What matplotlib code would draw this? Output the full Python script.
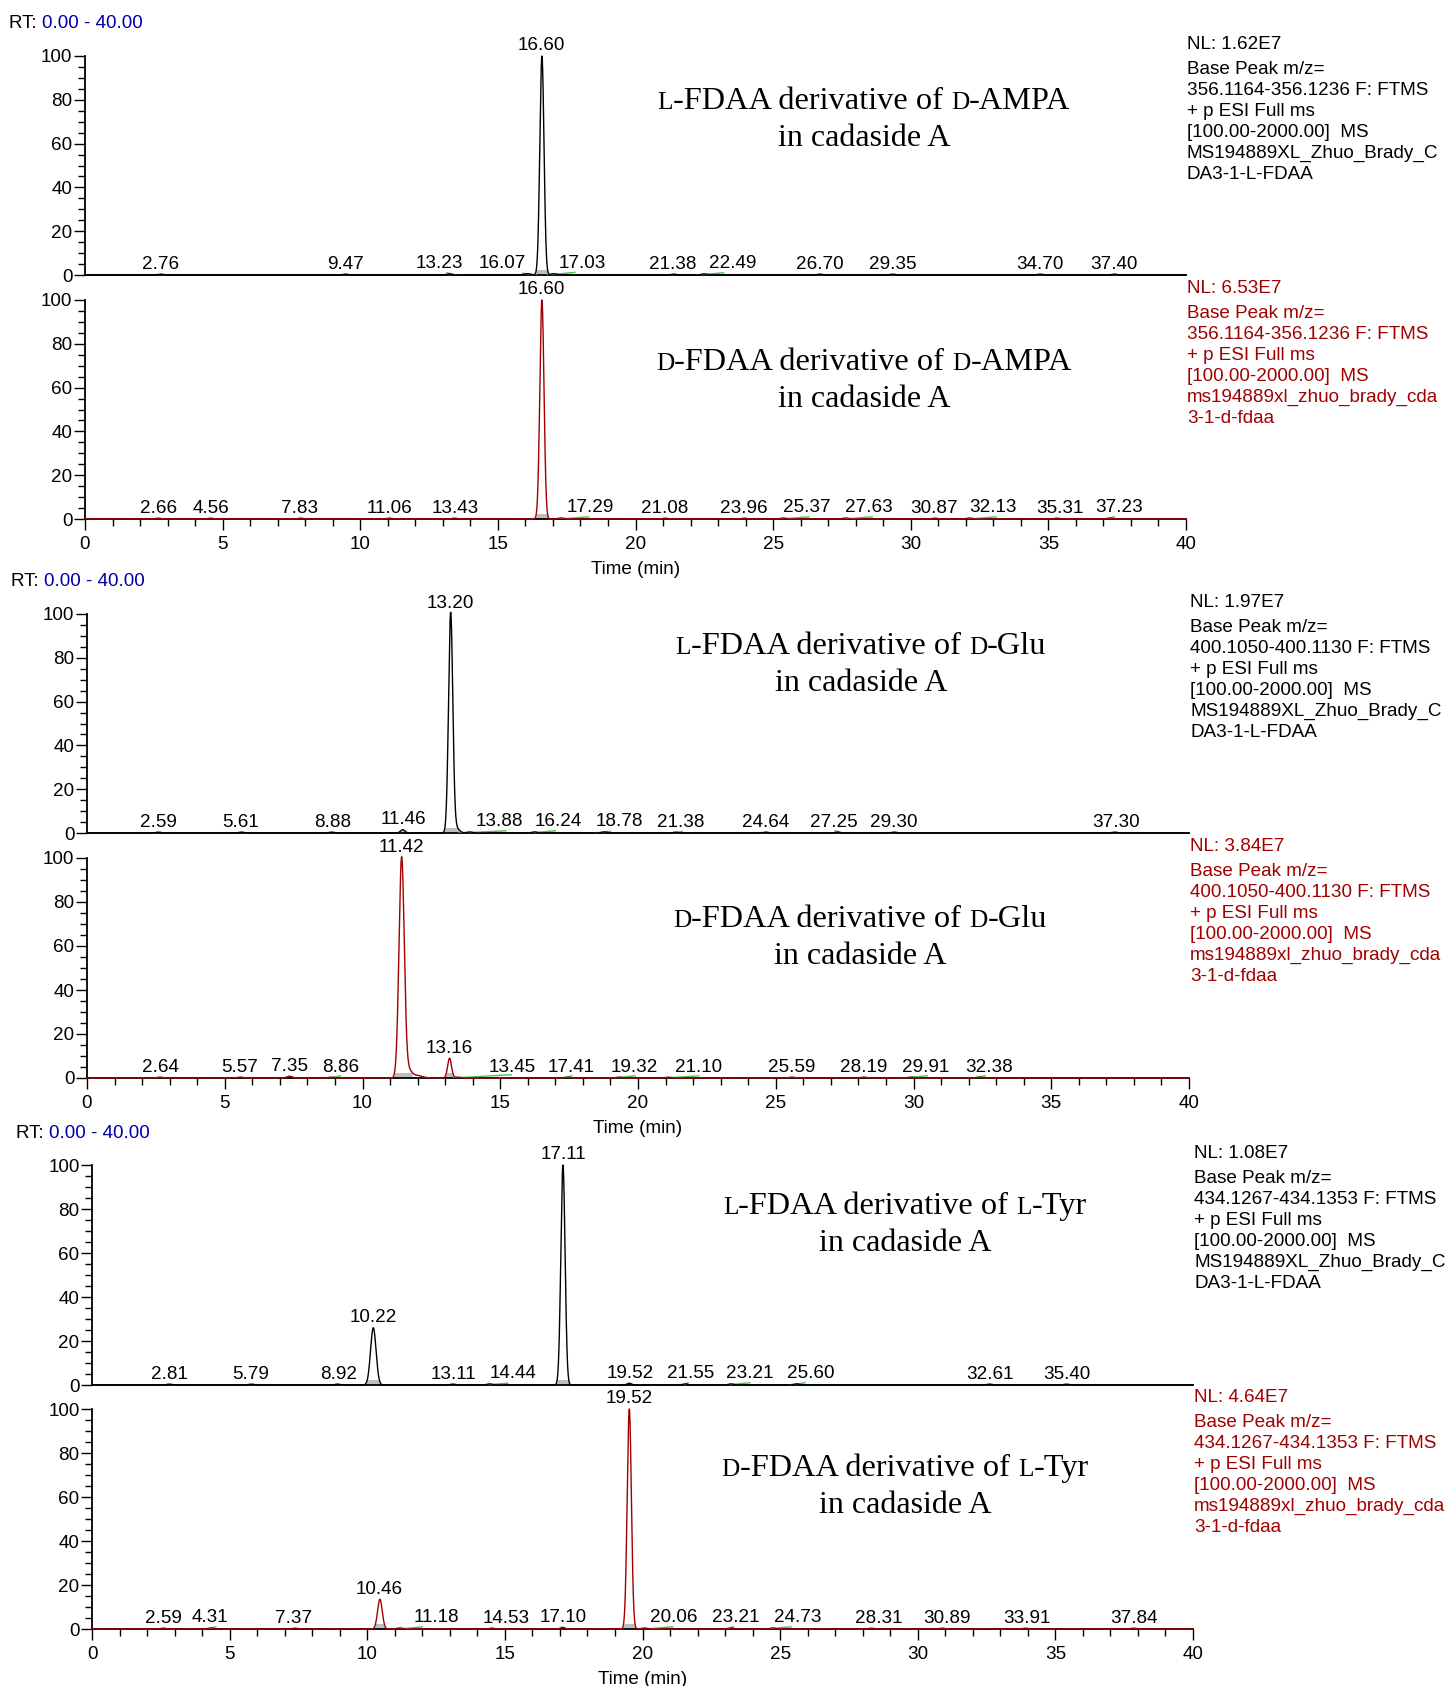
import numpy as np
import matplotlib
matplotlib.use("Agg")
import matplotlib.pyplot as plt
from matplotlib.ticker import MultipleLocator
from matplotlib.transforms import offset_copy

# ---------------------------------------------------------------------------
# Chromatogram data (retention time in min, relative abundance in %)
# ---------------------------------------------------------------------------
# Panel A: L-FDAA derivative of D-AMPA
a_rt = [2.76, 9.47, 13.23, 16.07, 16.60, 17.03, 21.38, 22.49, 26.70, 29.35, 34.70, 37.40]
a_height = [0.4, 0.4, 0.5, 0.6, 100, 0.6, 0.4, 0.5, 0.4, 0.4, 0.4, 0.4]
a_sigma = [0.1, 0.1, 0.1, 0.1, 0.075, 0.1, 0.1, 0.1, 0.1, 0.1, 0.1, 0.1]
a_green = [(13.15, 1.0, 13.5, 0.0), (15.9, 0.8, 16.4, 0.0), (16.8, 0.0, 17.8, 1.2),
           (22.2, 0.0, 23.2, 1.0)]

# Panel B: D-FDAA derivative of D-AMPA
b_rt = [2.66, 4.56, 7.83, 11.06, 13.43, 16.60, 17.29, 21.08, 23.96, 25.37, 27.63, 30.87,
        32.13, 35.31, 37.23]
b_height = [0.4, 0.4, 0.4, 0.4, 0.4, 100, 0.5, 0.4, 0.4, 0.5, 0.5, 0.4, 0.5, 0.4, 0.5]
b_sigma = [0.1] * 5 + [0.075] + [0.1] * 9
b_green = [(17.2, 0.0, 18.3, 1.0), (25.3, 0.0, 26.3, 1.0), (27.6, 0.0, 28.6, 1.0),
           (32.1, 0.0, 33.1, 1.0), (37.1, 0.0, 37.4, 1.0)]

# Panel C: L-FDAA derivative of D-Glu
c_rt = [2.59, 5.61, 8.88, 11.46, 13.20, 13.88, 16.24, 18.78, 21.38, 24.64, 27.25, 29.30, 37.30]
c_height = [0.4, 0.4, 0.4, 1.5, 100, 0.5, 0.5, 0.5, 0.4, 0.4, 0.4, 0.4, 0.4]
c_sigma = [0.1, 0.1, 0.1, 0.08, 0.077, 0.1, 0.1, 0.1, 0.1, 0.1, 0.1, 0.1, 0.1]
c_shoulder_rt = [13.38]
c_shoulder_height = [2.5]
c_shoulder_sigma = [0.12]
c_green = [(13.5, 0.0, 15.2, 1.0), (16.0, 0.0, 17.0, 1.0), (18.4, 0.0, 19.0, 0.8),
           (21.4, 0.0, 21.6, 0.8), (27.15, 1.0, 27.4, 0.0)]

# Panel D: D-FDAA derivative of D-Glu
d_rt = [2.64, 5.57, 7.35, 8.86, 11.42, 13.16, 13.45, 17.41, 19.32, 21.10, 25.59, 28.19,
        29.91, 32.38]
d_height = [0.4, 0.4, 0.8, 0.4, 100, 9, 0.4, 0.4, 0.4, 0.4, 0.4, 0.4, 0.4, 0.4]
d_sigma = [0.1, 0.1, 0.1, 0.1, 0.095, 0.07, 0.1, 0.1, 0.1, 0.1, 0.1, 0.1, 0.1, 0.1]
d_shoulder_rt = [11.65, 11.95]
d_shoulder_height = [3.5, 1.2]
d_shoulder_sigma = [0.12, 0.2]
d_green = [(8.8, 0.0, 9.2, 1.0), (13.3, 0.0, 15.4, 1.5), (17.3, 0.0, 17.6, 1.0),
           (19.1, 0.0, 19.9, 1.0), (21.0, 0.0, 22.2, 1.0), (29.6, 0.0, 30.5, 1.0),
           (32.2, 0.0, 32.6, 1.0)]

# Panel E: L-FDAA derivative of L-Tyr
e_rt = [2.81, 5.79, 8.92, 10.22, 13.11, 14.44, 17.11, 19.52, 21.55, 23.21, 25.60, 32.61, 35.40]
e_height = [0.4, 0.4, 0.4, 26, 0.4, 0.5, 100, 0.8, 0.5, 0.5, 0.5, 0.4, 0.4]
e_sigma = [0.1, 0.1, 0.1, 0.1, 0.1, 0.1, 0.077, 0.08, 0.1, 0.1, 0.1, 0.1, 0.1]
e_green = [(14.2, 0.0, 15.1, 0.8), (21.5, 0.0, 21.65, 1.0), (23.0, 0.0, 23.9, 1.0),
           (25.3, 0.0, 25.9, 1.0)]

# Panel F: D-FDAA derivative of L-Tyr
f_rt = [2.59, 4.31, 7.37, 10.46, 11.18, 14.53, 17.10, 19.52, 20.06, 23.21, 24.73, 28.31,
        30.89, 33.91, 37.84]
f_height = [0.4, 0.5, 0.4, 13.5, 0.5, 0.4, 0.8, 100, 0.5, 0.5, 0.5, 0.4, 0.4, 0.4, 0.4]
f_sigma = [0.1, 0.1, 0.1, 0.085, 0.1, 0.1, 0.08, 0.076, 0.1, 0.1, 0.1, 0.1, 0.1, 0.1, 0.1]
f_green = [(4.2, 0.0, 4.5, 1.0), (11.2, 0.0, 12.0, 1.0), (20.1, 0.0, 21.1, 1.0),
           (23.1, 0.0, 23.3, 1.0), (24.5, 0.0, 25.4, 1.0)]

# Horizontal placement of the retention-time labels (min); labels of crowded
# neighbours are pushed aside so they do not collide.
a_label_x = [2.73, 9.45, 12.89, 15.16, 16.58, 18.05, 21.37, 23.52, 26.68, 29.34, 34.69, 37.38]
b_label_x = [2.66, 4.57, 7.81, 11.05, 13.44, 16.58, 18.36, 21.05, 23.95, 26.21, 28.48, 30.86,
             33.00, 35.43, 37.58]
c_label_x = [2.58, 5.59, 8.91, 11.48, 13.20, 14.96, 17.11, 19.34, 21.56, 24.65, 27.11, 29.30,
             37.34]
d_label_x = [2.66, 5.55, 7.34, 9.22, 11.41, 13.16, 15.43, 17.58, 19.88, 22.19, 25.59, 28.20,
             30.43, 32.73]
e_label_x = [2.81, 5.78, 8.95, 10.23, 13.13, 15.31, 17.11, 19.57, 21.76, 23.91, 26.13, 32.62,
             35.43]
f_label_x = [2.58, 4.30, 7.34, 10.43, 12.50, 15.04, 17.11, 19.53, 21.13, 23.40, 25.63, 28.59,
             31.05, 33.95, 37.85]

# Titles drawn inside each panel: list of (text, small-caps?) pieces
title_l_ampa = [("L", True), ("-FDAA derivative of", False), (" ", False), ("D", True), ("-AMPA", False)]
title_d_ampa = [("D", True), ("-FDAA derivative of", False), (" ", False), ("D", True), ("-AMPA", False)]
title_l_glu = [("L", True), ("-FDAA derivative of", False), (" ", False), ("D", True), ("-Glu", False)]
title_d_glu = [("D", True), ("-FDAA derivative of", False), (" ", False), ("D", True), ("-Glu", False)]
title_l_tyr = [("L", True), ("-FDAA derivative of", False), (" ", False), ("L", True), ("-Tyr", False)]
title_d_tyr = [("D", True), ("-FDAA derivative of", False), (" ", False), ("L", True), ("-Tyr", False)]

# Instrument notes at the right of each panel
nl_values = ["1.62E7", "6.53E7", "1.97E7", "3.84E7", "1.08E7", "4.64E7"]
mz_ranges = ["356.1164-356.1236", "356.1164-356.1236", "400.1050-400.1130",
             "400.1050-400.1130", "434.1267-434.1353", "434.1267-434.1353"]
file_l = ["MS194889XL_Zhuo_Brady_C", "DA3-1-L-FDAA"]
file_d = ["ms194889xl_zhuo_brady_cda", "3-1-d-fdaa"]

x_ticks = [0, 5, 10, 15, 20, 25, 30, 35, 40]
y_ticks = [0, 20, 40, 60, 80, 100]

# ---------------------------------------------------------------------------
W, H = 1448, 1686
fig = plt.figure(figsize=(W / 100, H / 100), dpi=100)

SANS = "Liberation Sans"
SERIF = "Liberation Serif"
FS = 13.6
BLACK = "#000000"
RED = "#A00000"
BLUE = "#0000A8"
GREEN = "#4CC04C"
GRAY = "#BEBEBE"

# axes boxes in pixels: left, right, top (100 %), bottom (0 %)
boxes = [
    (85, 1186, 56, 275),
    (85, 1186, 300, 519),
    (87, 1189, 614, 833),
    (87, 1189, 858, 1078),
    (92, 1193, 1165, 1385),
    (92, 1193, 1409, 1629),
]

panels = [
    dict(rt=a_rt, h=a_height, s=a_sigma, lx=a_label_x, green=a_green, color=BLACK,
         title=title_l_ampa, tpos=(864, 98, 134), file=file_l),
    dict(rt=b_rt, h=b_height, s=b_sigma, lx=b_label_x, green=b_green, color=RED,
         title=title_d_ampa, tpos=(864, 359, 396), file=file_d),
    dict(rt=c_rt, h=c_height, s=c_sigma, lx=c_label_x, green=c_green, color=BLACK,
         title=title_l_glu, tpos=(861, 643, 679), file=file_l,
         extra=(c_shoulder_rt, c_shoulder_height, c_shoulder_sigma)),
    dict(rt=d_rt, h=d_height, s=d_sigma, lx=d_label_x, green=d_green, color=RED,
         title=title_d_glu, tpos=(860, 916, 952), file=file_d,
         extra=(d_shoulder_rt, d_shoulder_height, d_shoulder_sigma)),
    dict(rt=e_rt, h=e_height, s=e_sigma, lx=e_label_x, green=e_green, color=BLACK,
         title=title_l_tyr, tpos=(905, 1203, 1239), file=file_l),
    dict(rt=f_rt, h=f_height, s=f_sigma, lx=f_label_x, green=f_green, color=RED,
         title=title_d_tyr, tpos=(905, 1465, 1502), file=file_d),
]

x = np.linspace(0, 40, 16001)


def trace(rts, hs, ss):
    y = np.zeros_like(x)
    for r, h, s in zip(rts, hs, ss):
        y += h * np.exp(-0.5 * ((x - r) / s) ** 2)
    return y


renderer = fig.canvas.get_renderer()


def fig_xy(px, py):
    return px / W, 1 - py / H


def draw_title(pieces, cx, y_line1, y_line2):
    big = 23.3
    small = big * 0.78
    texts = []
    widths = []
    for s, sc in pieces:
        if s == " ":
            texts.append(None)
            widths.append(0.25 * big * 100 / 72)
            continue
        t = fig.text(0, 0, s, fontsize=small if sc else big, family=SERIF,
                     ha="left", va="baseline", color="black")
        widths.append(t.get_window_extent(renderer).width)
        texts.append(t)
    total = sum(widths)
    base1 = y_line1 + 0.33 * big * 100 / 72
    px = cx - total / 2
    for t, w in zip(texts, widths):
        if t is not None:
            t.set_position(fig_xy(px, base1))
        px += w
    fx, fy = fig_xy(cx, base1 + 37)
    fig.text(fx, fy, "in cadaside A", fontsize=23.0, family=SERIF, ha="center",
             va="baseline", color="black")


for i, (p, box) in enumerate(zip(panels, boxes)):
    l, r, t, b = box
    ax = fig.add_axes([l / W, 1 - b / H, (r - l) / W, (b - t) / H])
    ax.set_xlim(0, 40)
    ax.set_ylim(0, 100)
    for side in ("top", "right"):
        ax.spines[side].set_visible(False)
    for side in ("left", "bottom"):
        ax.spines[side].set_linewidth(1.3)
        ax.spines[side].set_color("black")
    ax.patch.set_alpha(0)

    y = trace(p["rt"], p["h"], p["s"])
    if "extra" in p:
        y += trace(*p["extra"])

    # shaded peak bases
    big_peaks = [(rr, hh, ss) for rr, hh, ss in zip(p["rt"], p["h"], p["s"]) if hh >= 0.8]
    for rr, hh, ss in big_peaks:
        m = (x > rr - 4 * ss) & (x < rr + 4 * ss)
        ax.fill_between(x[m], 0, np.minimum(y[m], 2.5), color=GRAY, lw=0, zorder=1)

    ax.plot(x, y, color=p["color"], lw=1.0, zorder=3, clip_on=False)

    # integration baselines
    for x0, y0, x1, y1 in p["green"]:
        ax.plot([x0, x1], [y0, y1], color=GREEN, lw=1.0, zorder=2.8)

    # retention time labels
    lab_tr = offset_copy(ax.transData, fig=fig, x=0, y=4, units="points")
    for rr, hh, lx in zip(p["rt"], p["h"], p["lx"]):
        ax.text(lx, hh, f"{rr:.2f}", transform=lab_tr, ha="center", va="baseline",
                fontsize=FS, family=SANS, clip_on=False, zorder=4)

    # axis ticks
    ax.yaxis.set_minor_locator(MultipleLocator(5))
    ax.set_yticks(y_ticks)
    ax.set_yticklabels([str(v) for v in y_ticks], fontsize=FS, family=SANS)
    ax.tick_params(axis="y", which="major", direction="out", length=8, width=1.0, pad=1)
    ax.tick_params(axis="y", which="minor", direction="out", length=5, width=1.0)
    if i % 2 == 1:
        ax.set_xticks(x_ticks)
        ax.set_xticklabels([str(v) for v in x_ticks], fontsize=FS, family=SANS)
        ax.xaxis.set_minor_locator(MultipleLocator(1))
        ax.tick_params(axis="x", which="major", direction="out", length=8, width=1.0, pad=4)
        ax.tick_params(axis="x", which="minor", direction="out", length=5, width=1.0)
        ax.set_xlabel("Time (min)", fontsize=FS, family=SANS, labelpad=6)
    else:
        ax.set_xticks([])
        ax.xaxis.set_minor_locator(plt.NullLocator())

    # instrument notes
    col = p["color"]
    lines = ["Base Peak m/z=", f"{mz_ranges[i]} F: FTMS", "+ p ESI Full ms",
             "[100.00-2000.00]  MS"] + p["file"]
    fx, fy = fig_xy(r + 1, t - 7)
    fig.text(fx, fy, f"NL: {nl_values[i]}", fontsize=FS, family=SANS, color=col,
             ha="left", va="baseline")
    for k, ln in enumerate(lines):
        fx, fy = fig_xy(r + 1, t + 18 + 21 * k)
        fig.text(fx, fy, ln, fontsize=FS, family=SANS, color=col, ha="left", va="baseline")

    # retention time window header above each pair
    if i % 2 == 0:
        fx, fy = fig_xy(l - 76, t - 32)
        hdr = fig.text(fx, fy, "RT: ", fontsize=FS, family=SANS, color="black",
                       ha="left", va="center")
        fig.canvas.draw()
        ax.annotate("0.00 - 40.00", xy=(1, 0.5), xycoords=hdr, ha="left", va="center",
                    fontsize=FS, family=SANS, color=BLUE, annotation_clip=False)

    draw_title(p["title"], *p["tpos"])

fig.savefig("out.png", dpi=100)
